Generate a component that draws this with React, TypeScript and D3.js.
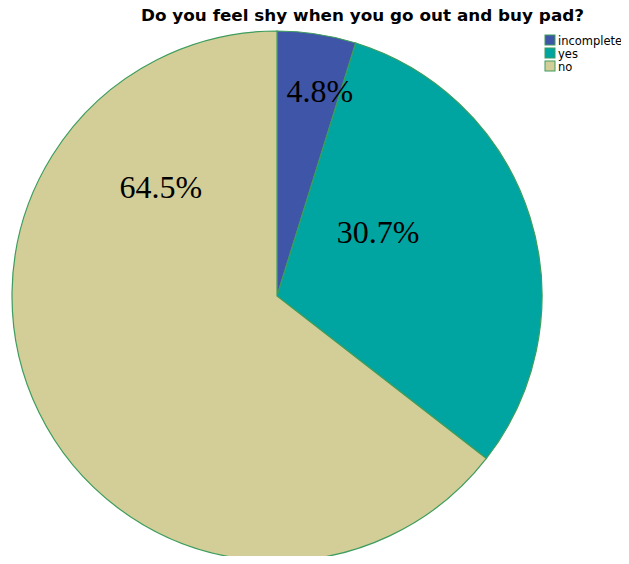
import React, { useEffect, useRef } from 'react';
import * as d3 from 'd3';

const categories = ['incomplete', 'yes', 'no'];
const percents = [4.8, 30.7, 64.5];
const colors = ['#3f55a7', '#00a5a1', '#d3ce98'];
// label placement: [angle in degrees from 12 o'clock, fraction of radius]
const labelAnchors: [number, number][] = [
  [11.8, 0.79],
  [58, 0.45],
  [313, 0.6],
];
const title = 'Do you feel shy when you go out and buy pad?';

const App: React.FC = () => {
  const svgRef = useRef<SVGSVGElement>(null);

  useEffect(() => {
    if (!svgRef.current) return;
    const svg = d3.select(svgRef.current);
    svg.selectAll('*').remove();

    const width = 629;
    const height = 564;
    const cx = 277;
    const cy = 296;
    const radius = 265;

    const pie = d3
      .pie<number>()
      .sort(null)
      .value((d) => d);
    const arc = d3.arc<d3.PieArcDatum<number>>().innerRadius(0).outerRadius(radius);

    const g = svg.append('g').attr('transform', `translate(${cx},${cy})`);

    g.selectAll('path')
      .data(pie(percents))
      .enter()
      .append('path')
      .attr('d', arc as any)
      .attr('fill', (_, i) => colors[i])
      .attr('stroke', '#3e9c5c')
      .attr('stroke-width', 1.2);

    g.selectAll('text.lbl')
      .data(percents)
      .enter()
      .append('text')
      .attr('class', 'lbl')
      .attr('x', (_, i) => d3.pointRadial((labelAnchors[i][0] * Math.PI) / 180, labelAnchors[i][1] * radius)[0])
      .attr('y', (_, i) => d3.pointRadial((labelAnchors[i][0] * Math.PI) / 180, labelAnchors[i][1] * radius)[1])
      .attr('text-anchor', 'middle')
      .attr('dy', '0.33em')
      .attr('font-family', '"Liberation Serif", serif')
      .attr('font-size', 32)
      .attr('fill', '#000')
      .text((d) => `${d.toFixed(1)}%`);

    svg
      .append('text')
      .attr('x', 141)
      .attr('y', 21)
      .attr('font-family', '"DejaVu Sans", sans-serif')
      .attr('font-weight', 'bold')
      .attr('font-size', 16)
      .attr('textLength', 443)
      .attr('lengthAdjust', 'spacingAndGlyphs')
      .attr('fill', '#000')
      .text(title);

    const legend = svg.append('g').attr('transform', 'translate(545,35)');
    const item = legend
      .selectAll('g')
      .data(categories)
      .enter()
      .append('g')
      .attr('transform', (_, i) => `translate(0,${i * 13})`);
    item
      .append('rect')
      .attr('width', 10)
      .attr('height', 10)
      .attr('fill', (_, i) => colors[i])
      .attr('stroke', '#3e9c5c')
      .attr('stroke-width', 1);
    item
      .append('text')
      .attr('x', 13)
      .attr('y', 9.5)
      .attr('font-family', '"DejaVu Sans", sans-serif')
      .attr('font-size', 11.5)
      .attr('fill', '#000')
      .text((d) => d);

    svg.attr('width', width).attr('height', height);
  }, []);

  return <svg ref={svgRef} style={{ display: 'block', margin: '-8px', overflow: 'visible' }}></svg>;
};

export default App;
